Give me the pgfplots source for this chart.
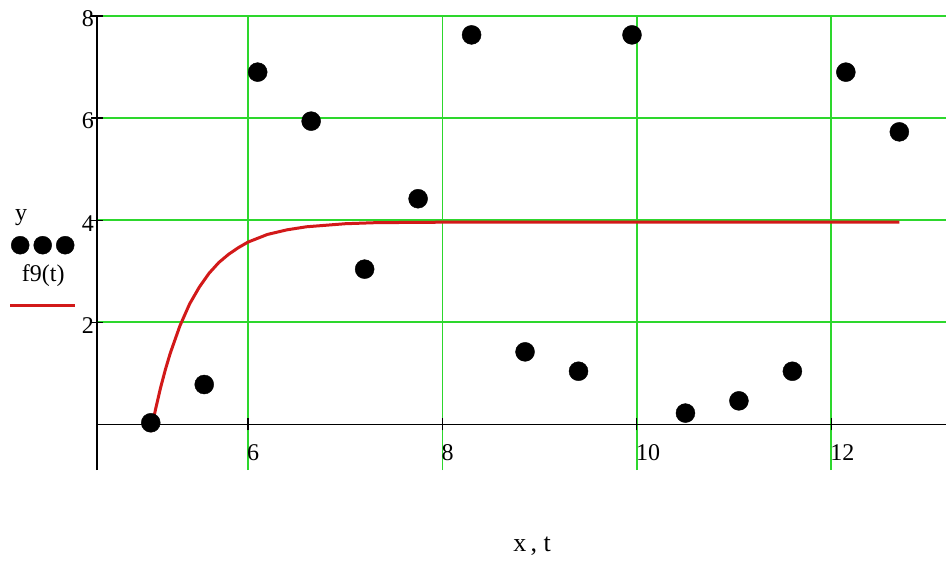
\documentclass[border=0pt]{standalone}
\usepackage{fontspec}
\setmainfont{Liberation Serif}
\usepackage{pgfplots}
\pgfplotsset{compat=1.18}
\definecolor{gridgreen}{RGB}{45,215,45}
\definecolor{curvered}{RGB}{210,25,25}
\newcommand{\bigfont}{\fontsize{24}{28}\selectfont}
\begin{document}
\begin{tikzpicture}
\useasboundingbox (0pt,0pt) rectangle (946pt,563pt);
\begin{axis}[
  at={(97pt,547pt)}, anchor=north west,
  scale only axis, width=849pt, height=454pt,
  xmin=4.447, xmax=13.18, ymin=-0.895, ymax=8,
  axis x line=middle, axis y line=left,
  axis line style={-, black, line width=1.6pt},
  xtick={6,8,10,12}, ytick={2,4,6,8},
  grid=major,
  major grid style={gridgreen, line width=1.6pt},
  tick style={black, line width=1.2pt},
  tick align=center, major tick length=12pt,
  /pgf/number format/assume math mode=true,
  tick label style={font=\bigfont, inner sep=0pt},
  xticklabel style={anchor=north west, xshift=-1pt, yshift=-14pt},
  yticklabel style={anchor=east, xshift=3pt, yshift=-3pt},
  clip=false,
  legend style={draw=none, fill=none, inner sep=0pt, row sep=0pt,
    nodes={inner sep=0pt}, at={(-0.11425,0.5925)}, anchor=north west},
]
\addplot[only marks, mark=*, mark size=9.5pt, black,
  legend image code/.code={
    \path[draw=none, fill=none] (0pt,-16pt) rectangle (80pt,44pt);
    \fill[black] (20pt,0pt) circle (9pt);
    \fill[black] (42.5pt,0pt) circle (9pt);
    \fill[black] (65pt,0pt) circle (9pt);
    \node[anchor=base, text=black, font=\bigfont, inner sep=0pt, draw=none] at (21pt,25pt) {y};
  }] table {
x y
5.00 0.03
5.55 0.78
6.10 6.90
6.65 5.94
7.20 3.04
7.75 4.42
8.30 7.63
8.85 1.42
9.40 1.04
9.95 7.63
10.50 0.22
11.05 0.46
11.60 1.04
12.15 6.90
12.70 5.73
};
\addlegendentry{}
\addplot[curvered, line width=3pt, no marks,
  legend image code/.code={
    \path[draw=none, fill=none] (0pt,-16pt) rectangle (80pt,44pt);
    \draw[curvered, line width=3pt] (10pt,0pt) -- (75pt,0pt);
    \node[anchor=base, text=black, font=\bigfont, inner sep=0pt, draw=none] at (43pt,24pt) {f9(t)};
  }] table {
x y
5.00 -0.15
5.05 0.30
5.10 0.71
5.15 1.07
5.20 1.39
5.30 1.93
5.40 2.36
5.50 2.69
5.60 2.96
5.70 3.17
5.80 3.33
5.90 3.46
6.00 3.57
6.20 3.72
6.40 3.81
6.60 3.87
6.80 3.90
7.00 3.93
7.30 3.95
7.60 3.955
8.00 3.96
12.70 3.96
};
\addlegendentry{}
\node[font=\fontsize{26}{30}\selectfont, anchor=center] at (axis description cs:0.5124,-0.1674) {x\,, t};
\end{axis}
\end{tikzpicture}
\end{document}
